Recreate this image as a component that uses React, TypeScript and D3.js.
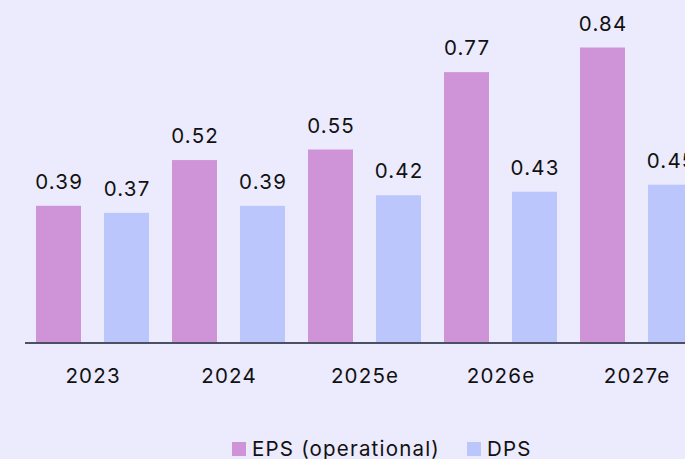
import React, { useEffect } from 'react'
import * as d3 from 'd3'

const years = ['2023', '2024', '2025e', '2026e', '2027e']
const eps = [0.39, 0.52, 0.55, 0.77, 0.84]
const dps = [0.37, 0.39, 0.42, 0.43, 0.45]
const seriesNames = ['EPS (operational)', 'DPS']
const colors = ['#cf93d7', '#bac6fc']

export default function App() {
    const width = 685
    const height = 459
    const baseY = 343

    useEffect(() => {
        document.body.style.margin = '0'
    }, [])

    const x0 = d3
        .scaleBand()
        .domain(years)
        .range([36, 693])
        .paddingInner(23 / 136)
        .paddingOuter(0)

    const x1 = d3
        .scaleBand()
        .domain(['EPS', 'DPS'])
        .range([0, x0.bandwidth()])
        .paddingInner(23 / 68)

    const y = d3.scaleLinear().domain([0, 0.84]).range([baseY, 47.5])

    const font = 'Inter, "Liberation Sans", Arial, sans-serif'
    const fs = 20.5
    const ls = 1.2
    const fmt = d3.format('.2f')

    const rows = years.map((yr, i) => ({ yr, vals: [eps[i], dps[i]] }))

    return (
        <svg width={width} height={height} style={{ display: 'block', background: '#eceafd' }}>
            <rect width={width} height={height} fill="#eceafd" />
            {rows.map((r) => (
                <g key={r.yr} transform={`translate(${x0(r.yr)},0)`}>
                    {r.vals.map((v, j) => {
                        const key = j === 0 ? 'EPS' : 'DPS'
                        const bx = x1(key) as number
                        return (
                            <g key={key}>
                                <rect
                                    x={bx}
                                    y={y(v)}
                                    width={x1.bandwidth()}
                                    height={baseY - y(v)}
                                    fill={colors[j]}
                                />
                                <text
                                    x={bx + x1.bandwidth() / 2 + ls / 2}
                                    y={y(v) - 17}
                                    textAnchor="middle"
                                    fontFamily={font}
                                    fontSize={fs}
                                    letterSpacing={ls}
                                    fill="#111"
                                >
                                    {fmt(v)}
                                </text>
                            </g>
                        )
                    })}
                    <text
                        x={x0.bandwidth() / 2 + ls / 2}
                        y={383}
                        textAnchor="middle"
                        fontFamily={font}
                        fontSize={fs}
                        letterSpacing={ls}
                        fill="#111"
                    >
                        {r.yr}
                    </text>
                </g>
            ))}
            <line x1={25} x2={width} y1={baseY} y2={baseY} stroke="#4b5063" strokeWidth={2} />
            <g>
                <rect x={232} y={442} width={14} height={14} fill={colors[0]} />
                <text x={252} y={456} fontFamily={font} fontSize={fs} letterSpacing={ls} fill="#111">
                    {seriesNames[0]}
                </text>
                <rect x={467} y={442} width={14} height={14} fill={colors[1]} />
                <text x={487} y={456} fontFamily={font} fontSize={fs} letterSpacing={ls} fill="#111">
                    {seriesNames[1]}
                </text>
            </g>
        </svg>
    )
}
